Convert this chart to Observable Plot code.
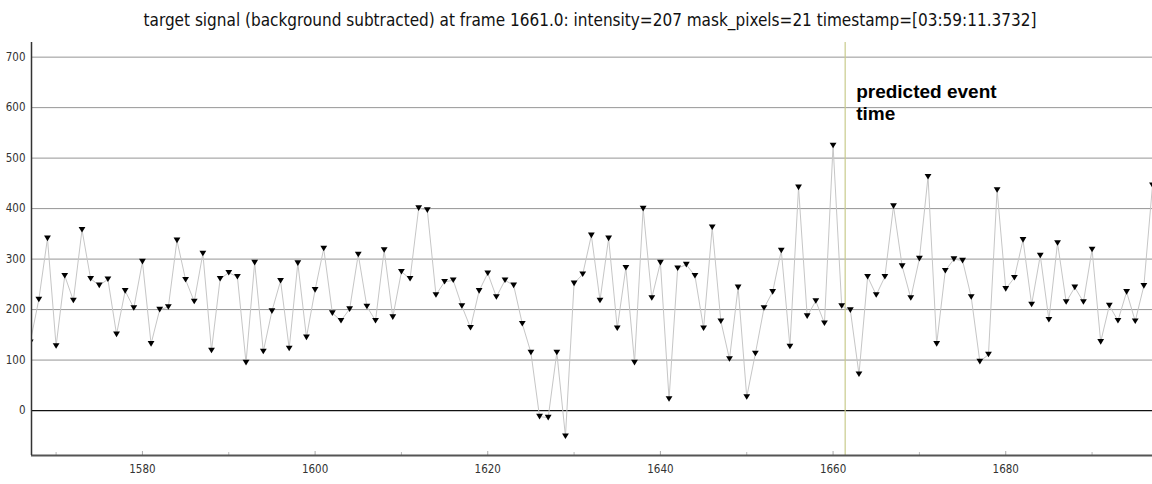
<!DOCTYPE html>
<html>
<head>
<meta charset="utf-8">
<script src="https://cdn.jsdelivr.net/npm/d3@7"></script>
<script src="https://cdn.jsdelivr.net/npm/@observablehq/plot@0.6"></script>
<style>
  html, body { margin: 0; padding: 0; background: #fff; }
  #wrap { width: 1152px; height: 484px; position: relative; overflow: hidden; }
  #title { height: 42px; line-height: 40px; text-align: center; font-family: "DejaVu Sans Condensed", "DejaVu Sans", sans-serif; font-size: 17px; color: #111; padding-left: 28px; white-space: nowrap; }
</style>
</head>
<body>
<div id="wrap">
  <div id="title">target signal (background subtracted) at frame 1661.0: intensity=207 mask_pixels=21 timestamp=[03:59:11.3732]</div>
  <div id="chart"></div>
</div>
<script>
const frames = d3.range(1567, 1698);
const intensity = [
  135, 220, 341, 128, 267, 218, 358, 261, 248, 260,
  151, 237, 203, 295, 132, 200, 205, 337, 259, 216,
  311, 119, 261, 273, 265, 95, 293, 117, 197, 257,
  123, 292, 145, 239, 321, 193, 178, 201, 309, 206,
  178, 318, 185, 275, 261, 401, 397, 229, 255, 258,
  207, 164, 237, 272, 225, 258, 248, 172, 115, -12,
  -14, 115, -51, 252, 270, 347, 218, 341, 163, 283,
  95, 400, 223, 293, 23, 282, 289, 267, 163, 363,
  177, 102, 244, 27, 113, 203, 235, 317, 127, 442,
  187, 217, 173, 525, 207, 199, 72, 265, 229, 265,
  405, 286, 223, 301, 463, 132, 277, 300, 297, 225,
  97, 111, 437, 241, 263, 338, 210, 307, 180, 332,
  215, 244, 215, 319, 136, 208, 178, 235, 177, 247,
  446
];
const xDomain = [1567.15, 1697];
const yDomain = [-89, 729];
const gridValues = [100, 200, 300, 400, 500, 600, 700];
const yTicks = [0, 100, 200, 300, 400, 500, 600, 700];
const xMajorTicks = [1580, 1600, 1620, 1640, 1660, 1680];
const xMinorTicks = [1570, 1590, 1610, 1630, 1650, 1670, 1690];
const eventFrame = 1661.4;
const eventLabel = "predicted event\ntime";
const eventLabelY = 650;

const data = frames.map((f, i) => ({frame: f, value: intensity[i]}));

const downTriangle = {
  draw(ctx, size) {
    const w = 3.4, h = 2.8;
    ctx.moveTo(-w, -h);
    ctx.lineTo(w, -h);
    ctx.lineTo(0, h);
    ctx.closePath();
  }
};

const chart = Plot.plot({
  width: 1152,
  height: 442,
  marginTop: 0,
  marginBottom: 29,
  marginLeft: 31,
  marginRight: 0,
  style: {fontFamily: "'DejaVu Sans Condensed', 'DejaVu Sans', sans-serif", fontSize: "11.5px", color: "#333", background: "#fff"},
  x: {domain: xDomain},
  y: {domain: yDomain},
  marks: [
    Plot.ruleY(gridValues, {stroke: "#969696", strokeWidth: 1}),
    Plot.ruleY([0], {stroke: "#111", strokeWidth: 1.2}),
    Plot.ruleX([eventFrame], {stroke: "#c8cb8c", strokeWidth: 1.2}),
    Plot.line(data, {x: "frame", y: "value", stroke: "#c6c6c6", strokeWidth: 1, clip: true}),
    Plot.dot(data, {x: "frame", y: "value", symbol: downTriangle, fill: "#000", stroke: null, clip: true}),
    Plot.text([eventLabel], {x: eventFrame, y: eventLabelY, text: d => d, textAnchor: "start", lineAnchor: "top", dx: 11, fontSize: 19, fontWeight: "bold", fontFamily: "'Liberation Sans', Arial, sans-serif", fill: "#000", lineHeight: 1.15}),
    Plot.axisY({ticks: yTicks, tickSize: 0, tickPadding: 6, label: null, fill: "#333"}),
    Plot.axisX({ticks: xMajorTicks, tickSize: -4, tickPadding: 13, label: null, stroke: "#aaa", fill: "#333", tickFormat: d => String(d)}),
    Plot.axisX({ticks: xMinorTicks, tickSize: -3, text: null, label: null, stroke: "#bbb"}),
    Plot.ruleY([yDomain[0]], {stroke: "#555", strokeWidth: 2}),
    Plot.ruleX([xDomain[0]], {stroke: "#333", strokeWidth: 1.5})
  ]
});
document.getElementById("chart").appendChild(chart);
</script>
</body>
</html>
